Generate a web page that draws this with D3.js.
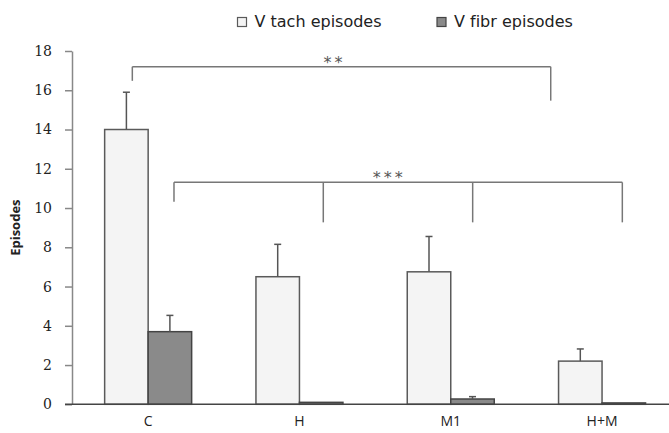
<!DOCTYPE html>
<html>
<head>
<meta charset="utf-8">
<script src="https://cdn.jsdelivr.net/npm/d3@7"></script>
<style>
  html, body { margin: 0; padding: 0; background: #fff; }
  svg { display: block; }
  text { font-variant-ligatures: none; }
</style>
</head>
<body>
<svg id="chart" width="669" height="433"></svg>
<script>
// ---- data ----
const categories = ["C", "H", "M1", "H+M"];
const seriesNames = ["V tach episodes", "V fibr episodes"];
const vtach = [14.0, 6.5, 6.75, 2.2];
const vtachErr = [1.9, 1.65, 1.8, 0.62];
const vfibr = [3.7, 0.1, 0.27, 0.07];
const vfibrErr = [0.83, 0, 0.12, 0];
const yTicks = [0, 2, 4, 6, 8, 10, 12, 14, 16, 18];
const yLabel = "Episodes";
// significance brackets: category + fraction of band, heights in data units
const bracketTop = { label: "**", y: 17.2, from: ["C", 0.318], to: ["H+M", -0.09], drops: [[ "C", 0.318, 16.48 ], [ "H+M", -0.09, 15.47 ]] };
const bracketMid = { label: "***", y: 11.31, from: ["C", 0.797], to: ["H+M", 0.733],
  drops: [["C", 0.797, 10.32], ["H", 0.774, 9.27], ["M1", 0.752, 9.27], ["H+M", 0.733, 9.27]] };

const svg = d3.select("#chart");
const W = 669, H = 433;
const SANS = "'Open Sans', Lato, sans-serif";

const y = d3.scaleLinear().domain([0, 18]).range([404.3, 51]);
const x0 = d3.scaleBand().domain(categories).range([72.5, 677.7]).paddingInner(0.425).paddingOuter(0.2125);
const x1 = d3.scaleBand().domain(seriesNames).range([0, x0.bandwidth()]).padding(0);

const fills = ["#f4f4f4", "#8a8a8a"];
const strokes = ["#5a5a5a", "#444"];

const rows = categories.map((c, i) => ({
  cat: c,
  vals: [
    { s: seriesNames[0], v: vtach[i], e: vtachErr[i] },
    { s: seriesNames[1], v: vfibr[i], e: vfibrErr[i] }
  ]
}));

// Y axis
const yAxis = svg.append("g")
  .attr("transform", "translate(72,0)")
  .call(d3.axisLeft(y).tickValues(yTicks).tickSize(7).tickSizeOuter(0).tickPadding(13));
yAxis.select(".domain").attr("stroke", "#888").attr("stroke-width", 1.5);
yAxis.selectAll(".tick line").attr("stroke", "#888").attr("stroke-width", 1.5);
yAxis.selectAll(".tick text")
  .attr("font-family", "'DejaVu Serif', serif")
  .attr("font-size", 14)
  .attr("fill", "#222");

// Y label
svg.append("text")
  .attr("transform", `translate(20,${(y(0) + y(18)) / 2}) rotate(-90)`)
  .attr("text-anchor", "middle")
  .attr("font-family", SANS)
  .attr("font-weight", "bold")
  .attr("font-size", 13)
  .attr("fill", "#222")
  .text(yLabel);

// Bars
const groups = svg.append("g").selectAll("g")
  .data(rows).join("g")
  .attr("transform", d => `translate(${x0(d.cat)},0)`);

groups.selectAll("rect")
  .data(d => d.vals).join("rect")
  .attr("x", d => x1(d.s))
  .attr("y", d => y(d.v))
  .attr("width", x1.bandwidth())
  .attr("height", d => y(0) - y(d.v))
  .attr("fill", (d, i) => fills[i])
  .attr("stroke", (d, i) => strokes[i])
  .attr("stroke-width", 1.5);

// Error bars
const errs = groups.selectAll("g.err")
  .data(d => d.vals.filter(v => v.e > 0)).join("g").attr("class", "err");
errs.append("line")
  .attr("x1", d => x1(d.s) + x1.bandwidth() / 2)
  .attr("x2", d => x1(d.s) + x1.bandwidth() / 2)
  .attr("y1", d => y(d.v))
  .attr("y2", d => y(d.v + d.e))
  .attr("stroke", "#555").attr("stroke-width", 1.5);
errs.append("line")
  .attr("x1", d => x1(d.s) + x1.bandwidth() / 2 - 3.5)
  .attr("x2", d => x1(d.s) + x1.bandwidth() / 2 + 3.5)
  .attr("y1", d => y(d.v + d.e))
  .attr("y2", d => y(d.v + d.e))
  .attr("stroke", "#555").attr("stroke-width", 1.5);

// X axis
const xAxis = svg.append("g")
  .attr("transform", `translate(0,${y(0)})`)
  .call(d3.axisBottom(x0).tickSize(0).tickPadding(12));
xAxis.select(".domain").remove();
xAxis.selectAll(".tick text")
  .attr("font-family", SANS)
  .attr("font-size", 14)
  .attr("fill", "#222");
svg.append("line")
  .attr("x1", 65).attr("x2", W)
  .attr("y1", y(0)).attr("y2", y(0))
  .attr("stroke", "#444").attr("stroke-width", 1.5);

// Brackets
const bx = (cat, f) => x0(cat) + f * x0.bandwidth();
function drawBracket(b, starDx, starDy) {
  const g = svg.append("g");
  g.append("line")
    .attr("x1", bx(b.from[0], b.from[1])).attr("x2", bx(b.to[0], b.to[1]))
    .attr("y1", y(b.y)).attr("y2", y(b.y))
    .attr("stroke", "#777").attr("stroke-width", 1.5);
  b.drops.forEach(d => {
    g.append("line")
      .attr("x1", bx(d[0], d[1])).attr("x2", bx(d[0], d[1]))
      .attr("y1", y(b.y)).attr("y2", y(d[2]))
      .attr("stroke", "#777").attr("stroke-width", 1.5);
  });
  const mid = (bx(b.from[0], b.from[1]) + bx(b.to[0], b.to[1])) / 2;
  g.append("text")
    .attr("x", mid + starDx).attr("y", y(b.y) + starDy)
    .attr("text-anchor", "middle")
    .attr("font-family", "'DejaVu Sans', sans-serif")
    .attr("font-size", 16)
    .attr("letter-spacing", 3)
    .attr("fill", "#555")
    .text(b.label);
}
drawBracket(bracketTop, -7, 1);
drawBracket(bracketMid, -9, 1);

// Legend
const legend = svg.append("g");
const legendX = [237.5, 437];
seriesNames.forEach((s, i) => {
  legend.append("rect")
    .attr("x", legendX[i]).attr("y", 17.5)
    .attr("width", 9).attr("height", 9)
    .attr("fill", fills[i]).attr("stroke", strokes[i]).attr("stroke-width", 1.2);
  legend.append("text")
    .attr("x", legendX[i] + 17).attr("y", 27)
    .attr("font-family", "'DejaVu Sans', sans-serif")
    .attr("font-size", 16)
    .attr("fill", "#222")
    .text(s);
});
</script>
</body>
</html>
